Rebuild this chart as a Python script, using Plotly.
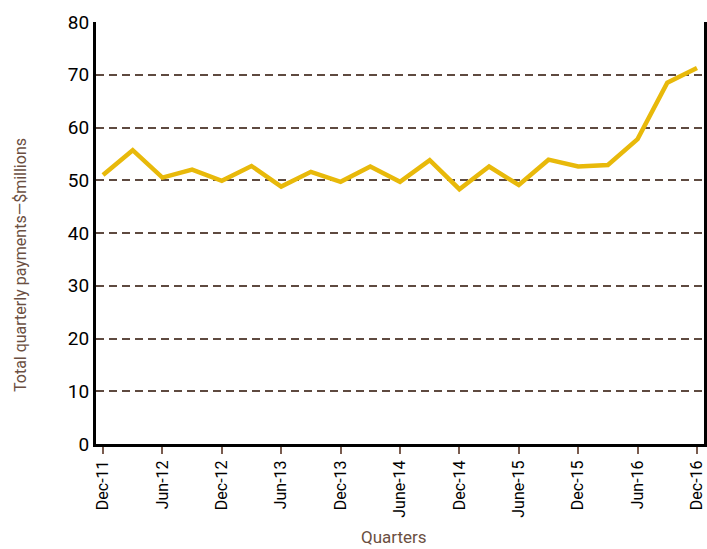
import plotly.graph_objects as go

quarters = ["Dec-11", "Mar-12", "Jun-12", "Sep-12", "Dec-12", "Mar-13", "Jun-13", "Sep-13",
            "Dec-13", "Mar-14", "June-14", "Sep-14", "Dec-14", "Mar-15", "June-15", "Sep-15",
            "Dec-15", "Mar-16", "Jun-16", "Sep-16", "Dec-16"]
payments = [51.0, 55.7, 50.5, 52.0, 49.9, 52.7, 48.8, 51.6, 49.7, 52.6, 49.7, 53.8,
            48.3, 52.6, 49.1, 53.9, 52.6, 52.9, 57.8, 68.5, 71.3]
tick_labels = quarters[::2]
y_ticks = [0, 10, 20, 30, 40, 50, 60, 70, 80]

xs = list(range(len(quarters)))

fig = go.Figure()
fig.add_trace(go.Scatter(
    x=xs, y=payments, mode="lines",
    line=dict(color="#E8B90A", width=4.5),
    hoverinfo="skip", showlegend=False,
))

FONT = "Roboto, sans-serif"
TITLE_COLOR = "#6b4f42"
fig.update_layout(
    width=707, height=549,
    margin=dict(l=96, r=3, t=22, b=105),
    paper_bgcolor="white", plot_bgcolor="white",
    font=dict(family=FONT, size=17, color="black"),
    xaxis=dict(
        range=[-0.236, 20.236], automargin=False,
        tickmode="array", tickvals=xs[::2], ticktext=tick_labels,
        tickangle=-90, ticks="outside", ticklen=7, tickwidth=2, tickcolor="#7a5c4f",
        tickfont=dict(family=FONT, size=16, color="black"),
        ticklabeloverflow="allow",
        showgrid=False, zeroline=False,
        showline=True, linecolor="black", linewidth=3,
    ),
    yaxis=dict(
        range=[0, 80], automargin=False,
        tickmode="array", tickvals=y_ticks,
        tickfont=dict(family=FONT, size=19, color="black"),
        ticks="", showgrid=True, gridcolor="#5e4a40", gridwidth=2, griddash="8px,5px",
        zeroline=False,
        showline=True, linecolor="black", linewidth=3, mirror=True,
    ),
    annotations=[
        dict(text="Total quarterly payments\u2014$millions", textangle=-90,
             xref="paper", yref="paper", x=0, y=(444 - 265) / 422,
             xshift=-76, xanchor="center", yanchor="middle", showarrow=False,
             font=dict(family=FONT, size=16, color=TITLE_COLOR)),
        dict(text="Quarters",
             xref="paper", yref="paper", x=(394 - 96) / 608, y=0,
             yshift=-93, xanchor="center", yanchor="middle", showarrow=False,
             font=dict(family=FONT, size=17, color=TITLE_COLOR)),
    ],
)

fig.write_html("out.html", config={"displayModeBar": False})

# remove default page margin so the figure sits at the window's top-left corner
with open("out.html", "r", encoding="utf-8") as f:
    html = f.read()
html = html.replace("<head>", "<head><style>html,body{margin:0;padding:0;overflow:hidden;}</style>", 1)
with open("out.html", "w", encoding="utf-8") as f:
    f.write(html)
